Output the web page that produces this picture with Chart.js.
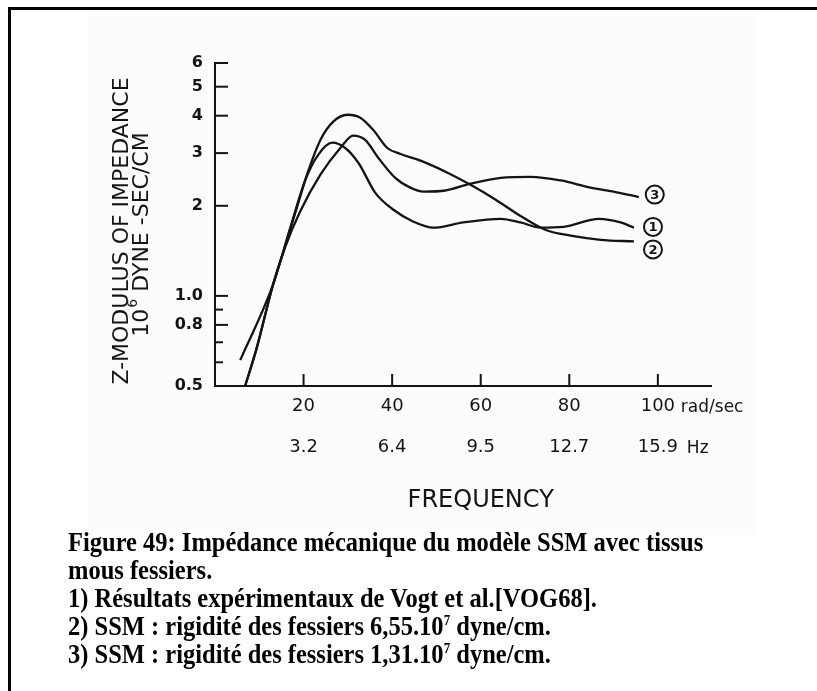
<!DOCTYPE html>
<html>
<head>
<meta charset="utf-8">
<title>Impédance mécanique du modèle SSM</title>
<script src="https://cdn.jsdelivr.net/npm/chart.js@4.4.1/dist/chart.umd.min.js"></script>
<style>
  html, body { margin: 0; padding: 0; background: #fff; }
  body { width: 817px; height: 691px; position: relative; overflow: hidden; }
  #frame { position: absolute; left: 8px; top: 7px; width: 900px; height: 800px;
           border-top: 3px solid #000; border-left: 3px solid #000; }
  #scan { position: absolute; left: 88px; top: 13px; width: 669px; height: 522px; background: #fcfcfc; }
  #wrap { position: absolute; left: 0; top: 0; width: 817px; height: 540px; }
  #caption { position: absolute; left: 68px; top: 528px; margin: 0;
             font-family: "Liberation Serif", "Times New Roman", serif; font-weight: bold;
             font-size: 24.5px; line-height: 26px; color: #000; white-space: nowrap;
             transform: scaleY(1.08); transform-origin: 0 0; }
  #caption sup { font-size: 13px; vertical-align: 9px; line-height: 0; }
</style>
</head>
<body>
<div id="scan"></div>
<div id="frame"></div>
<div id="wrap"><canvas id="zChart" width="817" height="540"></canvas></div>
<div id="caption">
  Figure 49: Impédance mécanique du modèle SSM avec tissus<br>
  mous fessiers.<br>
  1) Résultats expérimentaux de Vogt et al.[VOG68].<br>
  2) SSM : rigidité des fessiers 6,55.10<sup>7</sup> dyne/cm.<br>
  3) SSM : rigidité des fessiers 1,31.10<sup>7</sup> dyne/cm.
</div>
<script>
// values: x in rad/sec, y in 10^6 dyne-sec/cm
var exp1X = [5.7, 13.1, 17.0, 20.4, 23.3, 26.5, 29.4, 32.4, 36.2, 40.3, 44.8, 49.3, 56.1, 64.5, 69.0, 73.5, 78.7, 86.7, 91.6, 94.6];
var exp1Y = [0.61, 1.09, 1.69, 2.44, 2.96, 3.25, 3.12, 2.78, 2.21, 1.94, 1.77, 1.69, 1.76, 1.81, 1.76, 1.69, 1.70, 1.81, 1.76, 1.69];

var ssm2X = [6.8, 9.3, 13.1, 15.4, 18.3, 21.0, 23.8, 26.7, 29.9, 32.8, 35.7, 38.9, 41.9, 46.4, 52.5, 57.7, 63.3, 69.0, 74.7, 80.3, 87.1, 94.6];
var ssm2Y = [0.50, 0.66, 1.09, 1.40, 1.93, 2.60, 3.32, 3.82, 4.03, 3.94, 3.59, 3.12, 2.98, 2.83, 2.58, 2.35, 2.10, 1.85, 1.66, 1.59, 1.54, 1.52];

var ssm3X = [6.8, 9.3, 13.1, 15.8, 19.2, 23.8, 28.3, 31.2, 33.9, 36.9, 40.7, 44.1, 47.1, 52.0, 57.7, 64.5, 71.3, 78.1, 84.8, 90.0, 95.7];
var ssm3Y = [0.50, 0.66, 1.09, 1.45, 1.91, 2.54, 3.12, 3.43, 3.32, 2.89, 2.48, 2.30, 2.23, 2.25, 2.37, 2.48, 2.50, 2.43, 2.30, 2.23, 2.14];

var xTickValues = [20, 40, 60, 80, 100];
var radLabels = ['20', '40', '60', '80', '100'];
var hzLabels = ['3.2', '6.4', '9.5', '12.7', '15.9'];

var yTickValues = [0.5, 0.6, 0.7, 0.8, 0.9, 1, 2, 3, 4, 5, 6];
var yLabeled = [0.5, 0.8, 1, 2, 3, 4, 5, 6];
var yLabels = ['0.5', '0.8', '1.0', '2', '3', '4', '5', '6'];
var yMinor = [0.6, 0.7, 0.9];

// circled curve numbers at the right end of each curve
var markNames = ['1', '2', '3'];
var markX = [98.9, 98.9, 99.3];
var markY = [1.70, 1.43, 2.18];

function pts(xs, ys) {
    return xs.map(function (x, i) { return { x: x, y: ys[i] }; });
}

var ink = '#141414';

var extras = {
    id: 'extras',
    afterDraw: function (chart) {
        var ctx = chart.ctx;
        var xs = chart.scales.x, ys = chart.scales.y;
        ctx.save();
        ctx.strokeStyle = ink;
        ctx.fillStyle = ink;
        ctx.lineWidth = 2;

        // ticks pointing into the plot
        yTickValues.forEach(function (v) {
            if (v === 0.5) return;
            var p = ys.getPixelForValue(v);
            var len = yMinor.indexOf(v) >= 0 ? 8 : 13;
            ctx.beginPath();
            ctx.moveTo(xs.left, p);
            ctx.lineTo(xs.left + len, p);
            ctx.stroke();
        });
        xTickValues.forEach(function (v) {
            var p = xs.getPixelForValue(v);
            ctx.beginPath();
            ctx.moveTo(p, ys.bottom);
            ctx.lineTo(p, ys.bottom - 12);
            ctx.stroke();
        });

        // units after the last tick labels
        var p100 = xs.getPixelForValue(100);
        ctx.textBaseline = 'middle';
        ctx.textAlign = 'left';
        ctx.font = '17px "DejaVu Sans"';
        ctx.fillText('rad/sec', p100 + 23, ys.bottom + 22);
        ctx.fillText('Hz', p100 + 29, ys.bottom + 63);

        // x title
        ctx.textAlign = 'center';
        ctx.font = '24px "DejaVu Sans"';
        ctx.fillText('FREQUENCY', xs.getPixelForValue(60), 501);

        // y title, two rotated lines
        ctx.save();
        ctx.translate(122, 231);
        ctx.rotate(-Math.PI / 2);
        ctx.font = '22px "DejaVu Sans"';
        ctx.fillText('Z-MODULUS OF IMPEDANCE', 0, 0);
        ctx.restore();

        ctx.save();
        ctx.translate(142, 235);
        ctx.rotate(-Math.PI / 2);
        ctx.textAlign = 'left';
        var big = '22px "DejaVu Sans"', small = '14px "DejaVu Sans"';
        ctx.font = big;
        var w1 = ctx.measureText('10').width;
        var w3 = ctx.measureText(' DYNE -SEC/CM').width;
        ctx.font = small;
        var w2 = ctx.measureText('6').width;
        var x0 = -(w1 + w2 + w3) / 2;
        ctx.font = big;
        ctx.fillText('10', x0, 0);
        ctx.font = small;
        ctx.fillText('6', x0 + w1 + 1, -9);
        ctx.font = big;
        ctx.fillText(' DYNE -SEC/CM', x0 + w1 + w2 + 1, 0);
        ctx.restore();

        // circled curve numbers
        ctx.textAlign = 'center';
        ctx.font = 'bold 13px "DejaVu Sans"';
        markNames.forEach(function (n, i) {
            var cx = xs.getPixelForValue(markX[i]);
            var cy = ys.getPixelForValue(markY[i]);
            ctx.beginPath();
            ctx.arc(cx, cy, 9, 0, Math.PI * 2);
            ctx.stroke();
            ctx.fillText(n, cx, cy + 1);
        });
        ctx.restore();
    }
};

function lineSet(label, data) {
    return {
        label: label,
        data: data,
        borderColor: ink,
        borderWidth: 2.3,
        pointRadius: 0,
        fill: false,
        cubicInterpolationMode: 'monotone'
    };
}

new Chart(document.getElementById('zChart'), {
    type: 'line',
    data: {
        datasets: [
            lineSet('1', pts(exp1X, exp1Y)),
            lineSet('2', pts(ssm2X, ssm2Y)),
            lineSet('3', pts(ssm3X, ssm3Y))
        ]
    },
    options: {
        responsive: false,
        devicePixelRatio: 1,
        animation: false,
        layout: { padding: { left: 0, right: 106, top: 63, bottom: 0 } },
        plugins: { legend: { display: false }, tooltip: { enabled: false } },
        scales: {
            x: {
                type: 'linear',
                min: 0,
                max: 112,
                afterFit: function (s) { s.height = 154; },
                afterBuildTicks: function (s) {
                    s.ticks = xTickValues.map(function (v) { return { value: v }; });
                },
                grid: { display: false, drawTicks: false },
                border: { display: true, color: ink, width: 2 },
                ticks: {
                    autoSkip: false,
                    maxRotation: 0,
                    padding: 0,
                    color: ink,
                    font: { family: 'DejaVu Sans', size: 18, lineHeight: '41px' },
                    callback: function (v) {
                        var i = xTickValues.indexOf(v);
                        return i < 0 ? '' : [radLabels[i], hzLabels[i]];
                    }
                }
            },
            y: {
                type: 'logarithmic',
                min: 0.5,
                max: 6,
                afterFit: function (s) { s.width = 215; },
                afterBuildTicks: function (s) {
                    s.ticks = yTickValues.map(function (v) { return { value: v }; });
                },
                grid: { display: false, drawTicks: false },
                border: { display: true, color: ink, width: 2 },
                ticks: {
                    autoSkip: false,
                    padding: 12,
                    color: ink,
                    font: { family: 'DejaVu Sans', size: 16, weight: 'bold' },
                    callback: function (v) {
                        var i = yLabeled.indexOf(v);
                        return i < 0 ? '' : yLabels[i];
                    }
                }
            }
        }
    },
    plugins: [extras]
});
</script>
</body>
</html>
